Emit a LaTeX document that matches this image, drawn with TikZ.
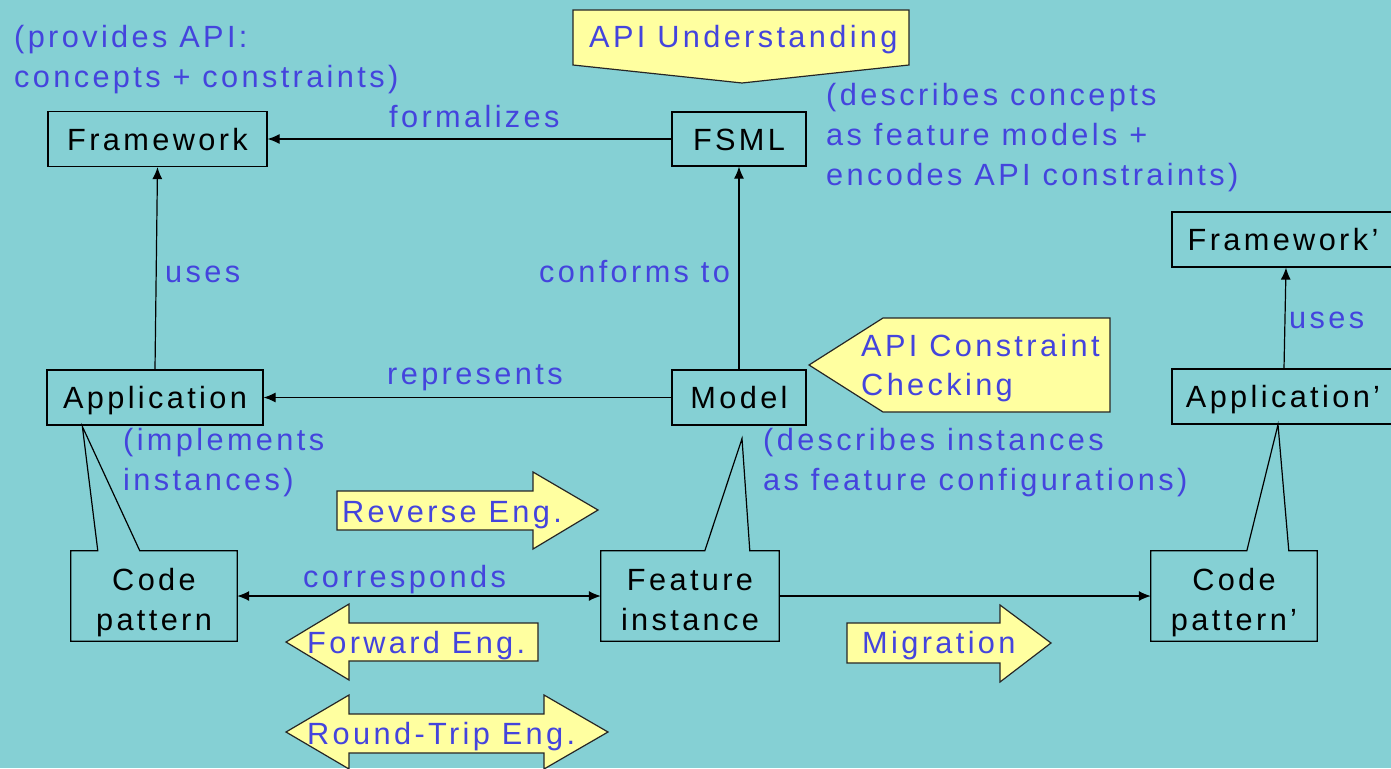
\documentclass[tikz,border=0pt]{standalone}
\usepackage{fontspec}
\setmainfont{Liberation Sans}[LetterSpace=11]
\usetikzlibrary{arrows.meta,calc}
\definecolor{slidebg}{RGB}{133,208,212}
\definecolor{noteblue}{RGB}{68,68,221}
\definecolor{notefill}{RGB}{255,255,160}

\begin{document}
\begin{tikzpicture}[x=1pt,y=-1pt,
  every node/.style={font=\fontsize{30.7}{40}\selectfont},
  box/.style={draw=black,line width=1.2pt,inner sep=0pt,
    text height=22pt,text depth=0pt},
  cbox/.style={inner sep=0pt,align=center,text height=68pt,text depth=0pt,
    minimum width=166pt,minimum height=90pt},
  outline/.style={draw=black,line width=1.2pt,line join=miter},
  arr/.style={draw=black,line width=1.2pt,-{Latex[length=12pt,width=10pt]}},
  biarr/.style={draw=black,line width=1.2pt,{Latex[length=12pt,width=10pt]}-{Latex[length=12pt,width=10pt]}},
  lbl/.style={text=noteblue,inner sep=0pt,anchor=base west},
  ylw/.style={draw=black!85,line width=1.2pt,fill=notefill,line join=miter},
]
% slide background
\fill[slidebg] (0,0) rectangle (1391,768);
\useasboundingbox (0,0) rectangle (1391,768);

% ---- boxes ----
\node[box,minimum width=219pt,minimum height=55pt] (fw)    at (157.5,139) {Framework};
\node[box,minimum width=134pt,minimum height=54pt] (fsml)  at (739,139)   {FSML};
\node[box,minimum width=216pt,minimum height=55pt] (app)   at (155,397.5) {Application};
\node[box,minimum width=134pt,minimum height=55pt] (model) at (739,397.5) {Model};
\node[box,minimum width=222pt,minimum height=55pt] (fw2)   at (1283,239.5) {Framework’};
\node[box,minimum width=222pt,minimum height=55pt] (app2)  at (1283,396.5) {Application’};

% ---- callout boxes (open pointer up to their parent) ----
\node[cbox] (cp)  at (154,596)  {Code\\pattern};
\node[cbox,minimum width=178pt] (fi) at (690,596) {Feature\\instance};
\node[cbox] (cp2) at (1234,596) {Code\\pattern’};

\coordinate (tipA) at ($(app.south west)+(36,1)$);
\coordinate (tipB) at ($(model.south)+(3,13)$);
\coordinate (tipC) at ($(app2.south)+(-5,0)$);

\draw[outline] ($(cp.north west)+(27,0)$) -- (cp.north west) -- (cp.south west)
  -- (cp.south east) -- (cp.north east) -- ($(cp.north west)+(69,0)$) -- (tipA) -- cycle;
\draw[outline] ($(fi.north west)+(104,0)$) -- (fi.north west) -- (fi.south west)
  -- (fi.south east) -- (fi.north east) -- ($(fi.north west)+(149,0)$) -- (tipB) -- cycle;
\draw[outline] ($(cp2.north west)+(96,0)$) -- (cp2.north west) -- (cp2.south west)
  -- (cp2.south east) -- (cp2.north east) -- ($(cp2.north west)+(138,0)$) -- (tipC) -- cycle;

% ---- connectors ----
\draw[arr] (fsml.west) -- (fw.east);
\draw[arr] (app.north) -- (fw.south);
\draw[arr] (model.north) -- (fsml.south);
\draw[arr] (model.west) -- (app.east);
\draw[biarr] (cp.east) -- (fi.west);
\draw[arr] (fi.east) -- (cp2.west);
\draw[arr] ([xshift=1pt]app2.north) -- ([xshift=3pt]fw2.south);

% ---- connector labels ----
\node[lbl] (l1) at (389,127) {formalizes};
\node[lbl] (l2) at (165,282) {uses};
\node[lbl] (l3) at (539,282) {conforms to};
\node[lbl] (l4) at (387,384) {represents};
\node[lbl] (l5) at (303,587) {corresponds};
\node[lbl] (l6) at (1289,328) {uses};

% ---- annotations ----
\node[lbl] (n1a) at (14,48)  {(provides API:};
\node[lbl] (n1b) at (14,88)  {concepts + constraints)};
\node[lbl] (n2a) at (826,105) {(describes concepts};
\node[lbl] (n2b) at (826,145) {as feature models +};
\node[lbl] (n2c) at (826,185) {encodes API constraints)};
\node[lbl] (n3a) at (123,450) {(implements};
\node[lbl] (n3b) at (123,490) {instances)};
\node[lbl] (n4a) at (763,450) {(describes instances};
\node[lbl] (n4b) at (763,490) {as feature configurations)};

% ---- activity markers ----
\draw[ylw] (573,10) -- (909,10) -- (909,65) -- (742,83) -- (573,65) -- cycle;
\node[lbl] (s1) at (589,48) {API Understanding};

\draw[ylw] (883,318) -- (1110,318) -- (1110,412) -- (883,412) -- (809,365) -- cycle;
\node[lbl] (s2a) at (861,356) {API Constraint};
\node[lbl] (s2b) at (861,395) {Checking};

\draw[ylw] (337,491) -- (533,491) -- (533,472) -- (598,510) -- (533,549) -- (533,530) -- (337,530) -- cycle;
\node[lbl] (s3) at (342,522) {Reverse Eng.};

\draw[ylw] (286,642) -- (349,604) -- (349,623) -- (538,623) -- (538,661) -- (349,661) -- (349,680) -- cycle;
\node[lbl] (s4) at (307,653) {Forward Eng.};

\draw[ylw] (286,732) -- (349,695) -- (349,714) -- (544,714) -- (544,695) -- (608,732)
  -- (544,769) -- (544,753) -- (349,753) -- (349,769) -- cycle;
\node[lbl] (s5) at (307,744) {Round-Trip Eng.};

\draw[ylw] (847,623) -- (1000,623) -- (1000,605) -- (1051,643) -- (1000,682) -- (1000,663) -- (847,663) -- cycle;
\node[lbl] (s6) at (862,653) {Migration};
\end{tikzpicture}
\end{document}
